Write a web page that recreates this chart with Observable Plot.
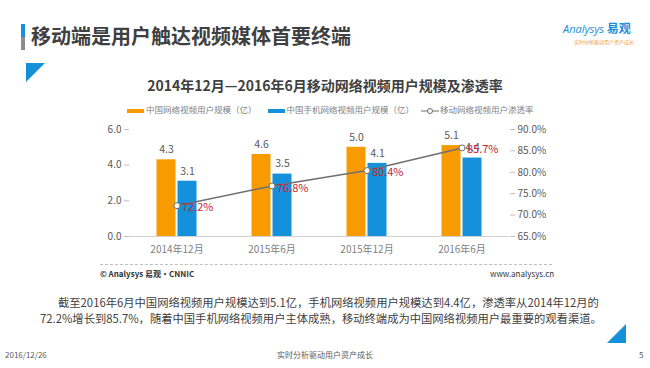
<!DOCTYPE html>
<html><head><meta charset="utf-8">
<script src="https://cdn.jsdelivr.net/npm/d3@7"></script>
<script src="https://cdn.jsdelivr.net/npm/@observablehq/plot@0.6"></script>
<style>
html,body{margin:0;padding:0;background:#fff;}
body{width:650px;height:368px;position:relative;overflow:hidden;font-family:"Noto Sans CJK SC","Noto Sans",sans-serif;color:#404040;}
.abs{position:absolute;white-space:nowrap;}
#chart{position:absolute;left:0;top:120px;}
</style></head><body>
<script>
// ---- data ----
const categories = ["2014年12月", "2015年6月", "2015年12月", "2016年6月"];
const netUsers = [4.3, 4.6, 5.0, 5.1];        // 中国网络视频用户规模（亿）
const mobileUsers = [3.1, 3.5, 4.1, 4.4];     // 中国手机网络视频用户规模（亿）
const penetration = [72.2, 76.8, 80.4, 85.7]; // 移动网络视频用户渗透率 (%)
const leftTicks = [0, 2, 4, 6];
const rightTicks = [65, 70, 75, 80, 85, 90];
const seriesNames = ["中国网络视频用户规模（亿）", "中国手机网络视频用户规模（亿）", "移动网络视频用户渗透率"];
</script>

<div class="abs" style="left:21px;top:24px;width:4px;height:13px;background:#1a8fdb"></div>
<div class="abs" style="left:21px;top:37px;width:4px;height:13px;background:#8c8c8c"></div>
<div class="abs" style="left:31px;top:22px;font-size:20px;font-weight:700;color:#404040;line-height:28px;">移动端是用户触达视频媒体首要终端</div>
<div class="abs" style="left:563px;top:20px;font-size:12px;color:#1a8fdb;line-height:16px;"><i style="font-family:'Open Sans',sans-serif;font-size:11px;">Analysys</i> <b>易观</b></div>
<div class="abs" style="left:574px;top:38px;font-size:5px;color:#f0a040;line-height:7px;">实时分析驱动用户资产成长</div>
<svg class="abs" style="left:26px;top:63px" width="20" height="20"><polygon points="0,0 19,0 0,19" fill="#1591dc"/></svg>
<svg class="abs" style="left:607px;top:324px" width="20" height="20"><polygon points="0,19 19,19 19,0" fill="#1591dc"/></svg>

<div class="abs" style="left:0;width:650px;top:75px;text-align:center;font-size:14px;font-weight:700;color:#404040;line-height:20px;">2014年12月—2016年6月移动网络视频用户规模及渗透率</div>
<div id="legend" class="abs" style="left:127px;top:102px;font-size:8.5px;color:#7f7f7f;line-height:14px;"></div>

<div id="chart"></div>

<div class="abs" style="left:100px;top:264px;width:452px;border-top:1px dashed #bfbfbf;"></div>
<div class="abs" style="left:100px;top:268px;font-size:8px;color:#333;line-height:12px;font-weight:700;">© Analysys 易观·CNNIC</div>
<div class="abs" style="left:490px;top:268px;font-size:8px;color:#333;line-height:12px;">www.analysys.cn</div>

<div class="abs" style="left:58px;top:294px;font-size:11.3px;color:#404040;line-height:16px;">截至2016年6月中国网络视频用户规模达到5.1亿，手机网络视频用户规模达到4.4亿，渗透率从2014年12月的</div>
<div class="abs" style="left:40px;top:310px;font-size:11.3px;color:#404040;line-height:16px;">72.2%增长到85.7%，随着中国手机网络视频用户主体成熟，移动终端成为中国网络视频用户最重要的观看渠道。</div>

<div class="abs" style="left:5px;top:349px;font-size:8px;color:#595959;line-height:11px;">2016/12/26</div>
<div class="abs" style="left:0;width:650px;top:349px;text-align:center;font-size:8px;color:#595959;line-height:11px;">实时分析驱动用户资产成长</div>
<div class="abs" style="left:639px;top:349px;font-size:8px;color:#595959;line-height:11px;">5</div>

<script>
const orange = "#f79b00", blue = "#1591dc", lineGray = "#6f6f6f", pctRed = "#c1272d";
const rows = categories.map((c, i) => ({cat: c, net: netUsers[i], mob: mobileUsers[i], pen: penetration[i]}));
// map the right-axis percent onto the left scale domain [0, 6]
const toLeft = p => (p - rightTicks[0]) / (rightTicks[rightTicks.length - 1] - rightTicks[0]) * leftTicks[leftTicks.length - 1];

const chart = Plot.plot({
  width: 650, height: 145,
  marginLeft: 129, marginRight: 141, marginTop: 9, marginBottom: 29,
  style: {fontFamily: '"Noto Sans CJK SC","Noto Sans",sans-serif', fontSize: "10px", color: "#595959", background: "transparent", overflow: "visible"},
  x: {domain: categories, padding: 0, axis: null, label: null},
  y: {domain: [0, 6], axis: null, label: null},
  marks: [
    Plot.ruleY([0], {stroke: "#d0d0d0"}),
    Plot.axisY(leftTicks, {anchor: "left", label: null, tickFormat: d => d.toFixed(1), tickSize: 5, tickPadding: 3, stroke: "#bfbfbf", line: true, fontSize: 10, fill: "#595959"}),
    Plot.axisY(rightTicks.map(toLeft), {anchor: "right", label: null, tickFormat: (d, i) => rightTicks[i].toFixed(1) + "%", tickSize: 5, tickPadding: 3, stroke: "#bfbfbf", line: true, fontSize: 10, fill: "#595959"}),
    Plot.axisX({anchor: "bottom", label: null, tickSize: 0, tickPadding: 9, fontSize: 10, fill: "#7f7f7f"}),
    Plot.barY(rows, {x: "cat", y: "net", fill: orange, insetLeft: 27.5, insetRight: 48.5}),
    Plot.barY(rows, {x: "cat", y: "mob", fill: blue, insetLeft: 48.5, insetRight: 27.5}),
    Plot.text(rows, {x: "cat", y: "net", text: d => d.net.toFixed(1), dx: -10.5, dy: -10, fill: "#595959", fontSize: 10.5}),
    Plot.text(rows, {x: "cat", y: "mob", text: d => d.mob.toFixed(1), dx: 10.5, dy: -10, fill: "#595959", fontSize: 10.5}),
    Plot.lineY(rows, {x: "cat", y: d => toLeft(d.pen), stroke: lineGray, strokeWidth: 1.5}),
    Plot.dot(rows, {x: "cat", y: d => toLeft(d.pen), r: 3, fill: "white", stroke: lineGray, strokeWidth: 1}),
    Plot.text(rows, {x: "cat", y: d => toLeft(d.pen), text: d => d.pen.toFixed(1) + "%", dx: 5, dy: 2, textAnchor: "start", fill: pctRed, fontSize: 11})
  ]
});
document.getElementById("chart").append(chart);

// legend
const lg = document.getElementById("legend");
lg.innerHTML =
  `<span style="display:inline-block;width:17px;height:4px;background:${orange};vertical-align:middle;margin-right:2px"></span>${seriesNames[0]}` +
  `<span style="display:inline-block;width:17px;height:4px;background:${blue};vertical-align:middle;margin:0 2px 0 11px"></span>${seriesNames[1]}` +
  `<svg width="18" height="8" style="vertical-align:middle;margin:0 1px 0 7px"><line x1="0" y1="4" x2="18" y2="4" stroke="${lineGray}" stroke-width="1"/><circle cx="9" cy="4" r="2.5" fill="white" stroke="${lineGray}"/></svg>${seriesNames[2]}`;
</script>
</body></html>
